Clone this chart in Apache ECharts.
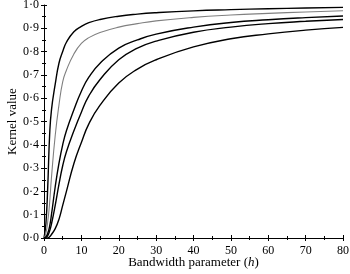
<!DOCTYPE html>
<html>
<head>
<meta charset="utf-8">
<script src="https://cdn.jsdelivr.net/npm/echarts@6/dist/echarts.min.js"></script>
<style>
    html, body { margin: 0; padding: 0; background: #fff; }
    #chart { width: 350px; height: 274px; }
</style>
</head>
<body>
<div id="chart"></div>
<script>
const hValues = [0, 0.5, 1, 1.5, 2, 3, 4, 5, 6, 8, 10, 12, 15, 20, 25, 30, 40, 50, 60, 70, 80]

// kernel value curves, top to bottom
const curveA = [0, 0.06, 0.22, 0.44, 0.55, 0.66, 0.75, 0.80, 0.84, 0.885, 0.908, 0.924, 0.938, 0.952, 0.961, 0.967, 0.975, 0.98, 0.984, 0.987, 0.99]
const curveB = [0, 0.02, 0.07, 0.15, 0.26, 0.44, 0.57, 0.67, 0.72, 0.79, 0.835, 0.86, 0.882, 0.905, 0.92, 0.932, 0.947, 0.957, 0.964, 0.97, 0.975]
const curveC = [0, 0.005, 0.02, 0.05, 0.10, 0.22, 0.32, 0.40, 0.46, 0.55, 0.63, 0.69, 0.75, 0.815, 0.85, 0.875, 0.905, 0.925, 0.937, 0.946, 0.953]
const curveD = [0, 0.003, 0.01, 0.03, 0.06, 0.14, 0.23, 0.31, 0.37, 0.46, 0.54, 0.61, 0.68, 0.765, 0.815, 0.845, 0.883, 0.905, 0.92, 0.93, 0.938]
const curveE = [0, 0, 0, 0.005, 0.015, 0.04, 0.08, 0.14, 0.20, 0.32, 0.41, 0.49, 0.57, 0.665, 0.725, 0.765, 0.82, 0.855, 0.876, 0.892, 0.904]

const curves = [
    { data: curveA, color: '#000', width: 1.4 },
    { data: curveB, color: '#808080', width: 1.1 },
    { data: curveC, color: '#000', width: 1.4 },
    { data: curveD, color: '#000', width: 1.4 },
    { data: curveE, color: '#000', width: 1.4 }
]

const font = 'Liberation Serif'
const dotted = v => v.toFixed(1).replace('.', '\u00b7')

const xBase = {
    type: 'value', min: 0, max: 80, interval: 10,
    splitLine: { show: false }
}
const yBase = {
    type: 'value', min: 0, max: 1, interval: 0.1,
    splitLine: { show: false }
}

const chart = echarts.init(document.getElementById('chart'), null, { renderer: 'canvas' })
chart.setOption({
    animation: false,
    grid: { left: 44, right: 7, top: 5, bottom: 36, outerBoundsMode: 'none', containLabel: false },
    xAxis: [
        Object.assign({}, xBase, {
            position: 'bottom',
            name: 'Bandwidth parameter ({i|h})',
            nameLocation: 'middle',
            nameGap: 18,
            nameMoveOverlap: false,
            nameTextStyle: {
                fontFamily: font, fontSize: 13, color: '#000',
                rich: { i: { fontFamily: font, fontSize: 13, fontStyle: 'italic', color: '#000' } }
            },
            axisLine: { lineStyle: { color: '#000', width: 1 } },
            axisTick: { inside: false, length: 3, lineStyle: { color: '#000' } },
            minorTick: { show: true, splitNumber: 2, length: 2, lineStyle: { color: '#000' } },
            axisLabel: { fontFamily: font, fontSize: 12, color: '#000', margin: 7 }
        }),
        // second copy only to draw the inner half of the ticks
        Object.assign({}, xBase, {
            position: 'bottom',
            axisLine: { show: false },
            axisTick: { inside: true, length: 3, lineStyle: { color: '#000' } },
            minorTick: { show: true, splitNumber: 2, length: 2, lineStyle: { color: '#000' } },
            axisLabel: { show: false }
        })
    ],
    yAxis: [
        Object.assign({}, yBase, {
            position: 'left',
            name: 'Kernel value',
            nameLocation: 'middle',
            nameGap: 25,
            nameMoveOverlap: false,
            nameTextStyle: { fontFamily: font, fontSize: 13, color: '#000' },
            axisLine: { show: true, lineStyle: { color: '#000', width: 1 } },
            axisTick: { show: true, inside: false, length: 3, lineStyle: { color: '#000' } },
            minorTick: { show: true, splitNumber: 2, length: 2, lineStyle: { color: '#000' } },
            axisLabel: { fontFamily: font, fontSize: 12, color: '#000', margin: 5, formatter: dotted }
        }),
        Object.assign({}, yBase, {
            position: 'left',
            axisLine: { show: false },
            axisTick: { show: true, inside: true, length: 3, lineStyle: { color: '#000' } },
            minorTick: { show: true, splitNumber: 2, length: 2, lineStyle: { color: '#000' } },
            axisLabel: { show: false }
        })
    ],
    series: curves.map(c => ({
        type: 'line',
        xAxisIndex: 0,
        yAxisIndex: 0,
        data: hValues.map((h, i) => [h, c.data[i]]),
        showSymbol: false,
        smooth: 0.5,
        lineStyle: { color: c.color, width: c.width },
        silent: true
    }))
})
</script>
</body>
</html>
